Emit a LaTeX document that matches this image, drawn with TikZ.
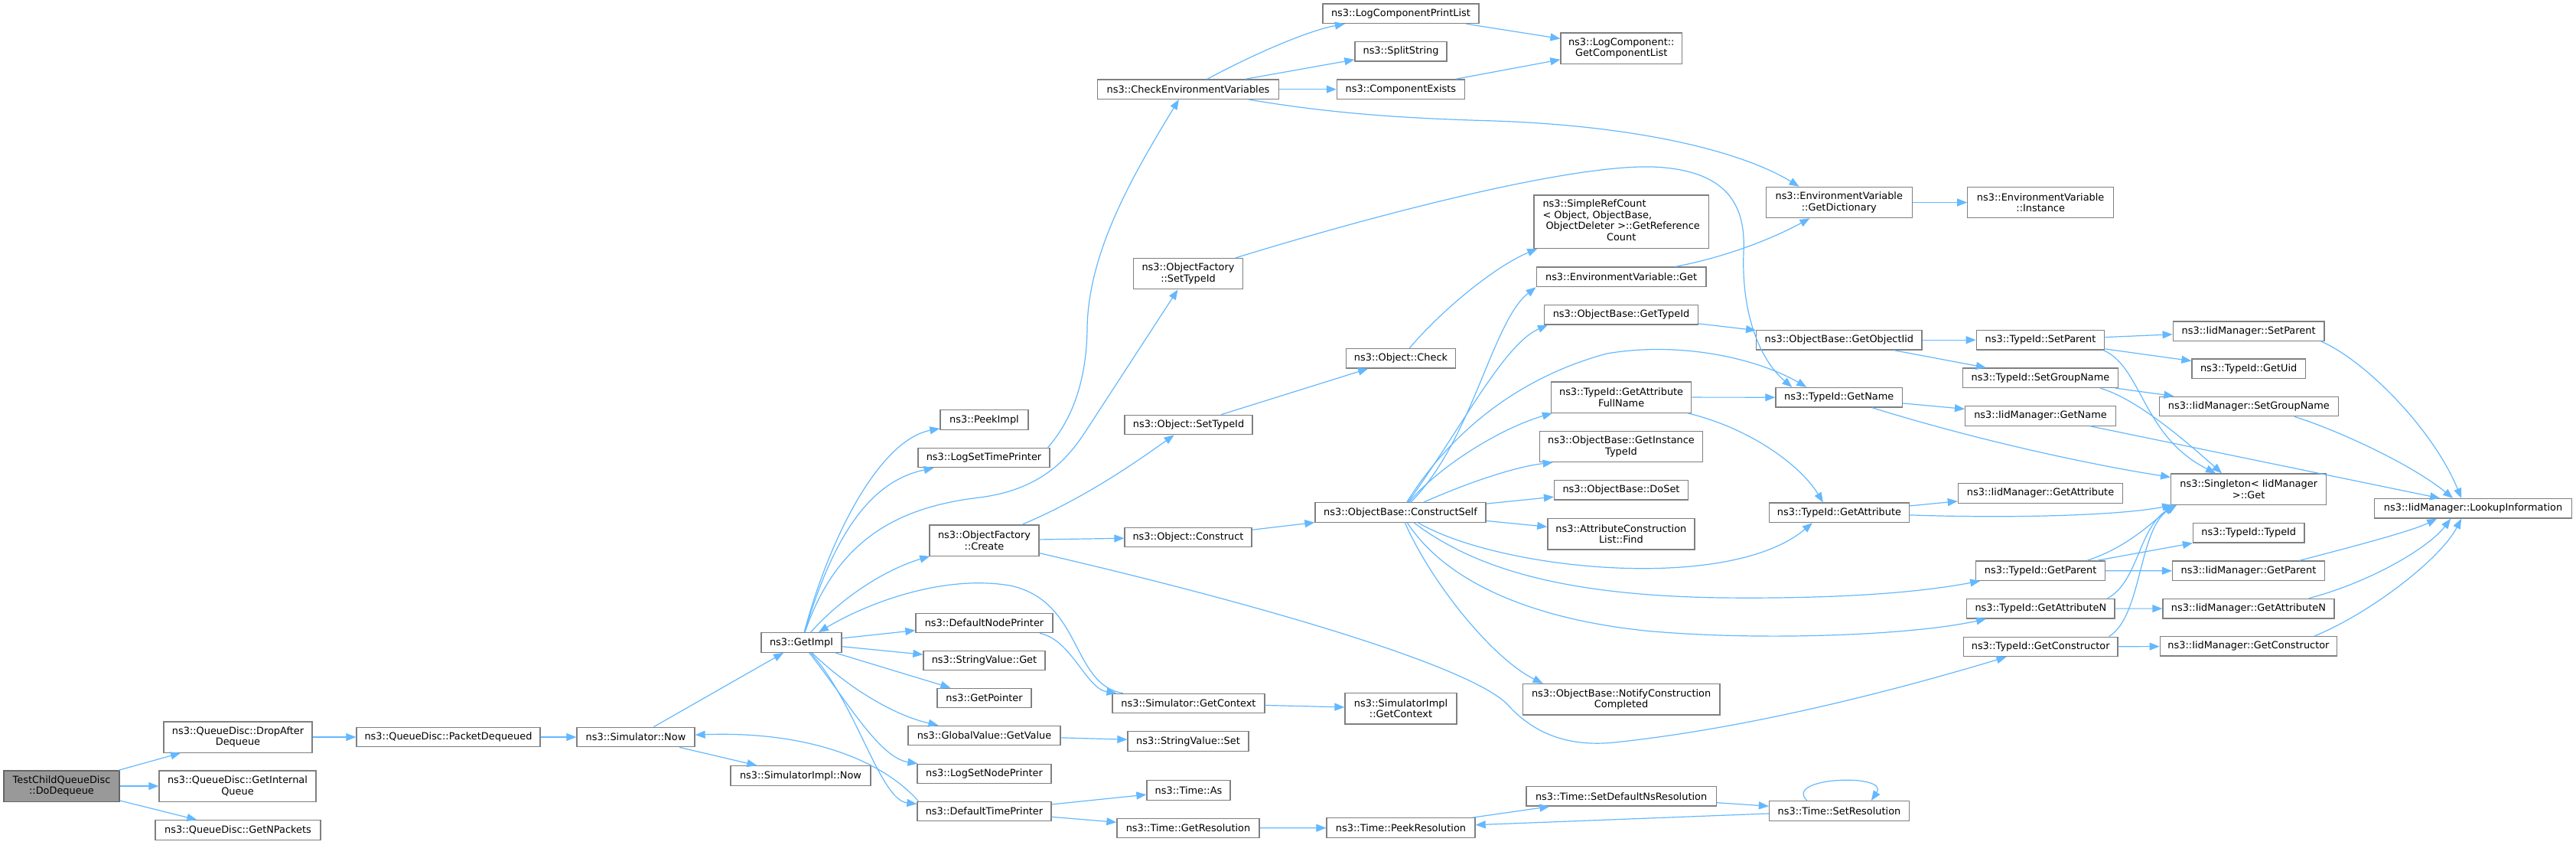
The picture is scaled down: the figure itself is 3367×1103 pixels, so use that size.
\documentclass[tikz,border=0pt]{standalone}
\usepackage{fontspec}
\setmainfont{DejaVu Sans}
\usetikzlibrary{arrows.meta}
\definecolor{edgec}{HTML}{63B8FF}
\definecolor{nodeb}{HTML}{808080}
\definecolor{rootb}{HTML}{666666}
\definecolor{rootf}{HTML}{999999}
\tikzset{
  box/.style={draw=nodeb, fill=white, line width=1.3pt, inner sep=0pt, align=center,
    font=\fontsize{12.9pt}{14.5pt}\selectfont, minimum height=25.5pt},
  box2/.style={box, minimum height=40.3pt},
  rootbox/.style={box2, fill=rootf, draw=rootb},
  edge/.style={draw=edgec, line width=1.2pt, -{Triangle[length=13pt,width=10pt]}},
}
\begin{document}
\begin{tikzpicture}[x=1pt,y=-1pt]
\useasboundingbox (0,0) rectangle (3367,1103);
% ---------------- nodes ----------------
\node[rootbox, minimum width=151pt] (dodeq) at (80.5,1027) {TestChildQueueDisc\\::DoDequeue};
\node[box2, minimum width=194pt] (dropafter) at (311,963) {ns3::QueueDisc::DropAfter\\Dequeue};
\node[box2, minimum width=205pt] (getinternal) at (310.5,1027) {ns3::QueueDisc::GetInternal\\Queue};
\node[box, minimum width=216pt] (getnpackets) at (311,1084.5) {ns3::QueueDisc::GetNPackets};
\node[box, minimum width=240pt] (pktdeq) at (586,963) {ns3::QueueDisc::PacketDequeued};
\node[box, minimum width=154pt] (simnow) at (831,963) {ns3::Simulator::Now};
\node[box, minimum width=183pt] (simimplnow) at (1046.5,1013.5) {ns3::SimulatorImpl::Now};
\node[box, minimum width=105pt] (getimpl) at (1047.5,839.5) {ns3::GetImpl};
\node[box, minimum width=115pt] (peekimpl) at (1286.5,548.5) {ns3::PeekImpl};
\node[box, minimum width=172pt] (logsettime) at (1286,598) {ns3::LogSetTimePrinter};
\node[box2, minimum width=143pt] (ofcreate) at (1286.5,706) {ns3::ObjectFactory\\::Create};
\node[box, minimum width=179pt] (defnodeprinter) at (1286.5,814) {ns3::DefaultNodePrinter};
\node[box, minimum width=159pt] (strvalget) at (1286.5,863) {ns3::StringValue::Get};
\node[box, minimum width=123pt] (getpointer) at (1286.5,912) {ns3::GetPointer};
\node[box, minimum width=199pt] (gvgetvalue) at (1286.5,961) {ns3::GlobalValue::GetValue};
\node[box, minimum width=175pt] (logsetnode) at (1286.5,1011) {ns3::LogSetNodePrinter};
\node[box, minimum width=175pt] (deftimeprinter) at (1286.5,1060) {ns3::DefaultTimePrinter};
\node[box, minimum width=167pt] (objsettypeid) at (1553.5,555) {ns3::Object::SetTypeId};
\node[box, minimum width=166pt] (objconstruct) at (1553,702) {ns3::Object::Construct};
\node[box, minimum width=223pt] (constructself) at (1830.5,669.5) {ns3::ObjectBase::ConstructSelf};
\node[box, minimum width=199pt] (simgetctx) at (1553.5,919) {ns3::Simulator::GetContext};
\node[box2, minimum width=146pt] (simimplgetctx) at (1831,925.75) {ns3::SimulatorImpl\\::GetContext};
\node[box, minimum width=158pt] (strvalset) at (1553,968.5) {ns3::StringValue::Set};
\node[box, minimum width=109pt] (timeas) at (1553.5,1032.5) {ns3::Time::As};
\node[box, minimum width=186pt] (timegetres) at (1553,1082) {ns3::Time::GetResolution};
\node[box, minimum width=194pt] (peekres) at (1831,1081.5) {ns3::Time::PeekResolution};
\node[box, minimum width=237pt] (cev) at (1553,116.65) {ns3::CheckEnvironmentVariables};
\node[box, minimum width=204pt] (lcpl) at (1831,17.85) {ns3::LogComponentPrintList};
\node[box, minimum width=120pt] (splitstring) at (1831,67.15) {ns3::SplitString};
\node[box, minimum width=167pt] (compexists) at (1830.9,116.65) {ns3::ComponentExists};
\node[box2, minimum width=143pt] (ofsettypeid) at (1553,357.65) {ns3::ObjectFactory\\::SetTypeId};
\node[box, minimum width=143.2pt] (objcheck) at (1831,468.25) {ns3::Object::Check};
\node[box2, minimum width=158.5pt] (lcgetlist) at (2119.25,63) {ns3::LogComponent::\\GetComponentList};
\node[box, minimum width=228.3pt, minimum height=69.3pt] (simplerefcount) at (2119.15,289.65)
  {\begin{tabular}{@{}l@{}}ns3::SimpleRefCount\\< Object, ObjectBase,\\\hspace*{4pt}ObjectDeleter >::GetReference\\\multicolumn{1}{@{}c@{}}{Count}\end{tabular}};
\node[box, minimum width=221.8pt] (envget) at (2119.1,361.85) {ns3::EnvironmentVariable::Get};
\node[box, minimum width=200.7pt] (obgettypeid) at (2119,411.15) {ns3::ObjectBase::GetTypeId};
\node[box2, minimum width=183.2pt] (getattrfullname) at (2119.1,519) {ns3::TypeId::GetAttribute\\FullName};
\node[box2, minimum width=213.5pt] (getinstancetypeid) at (2119,583.3) {ns3::ObjectBase::GetInstance\\TypeId};
\node[box, minimum width=175pt] (doset) at (2119,640.25) {ns3::ObjectBase::DoSet};
\node[box2, minimum width=192pt] (acfind) at (2118.85,697.7) {ns3::AttributeConstruction\\List::Find};
\node[box2, minimum width=257.6pt] (notifycc) at (2119.1,913.7) {ns3::ObjectBase::NotifyConstruction\\Completed};
\node[box, minimum width=248.4pt] (setdefaultns) at (2119.1,1040.35) {ns3::Time::SetDefaultNsResolution};
\node[box2, minimum width=191pt] (envgetdict) at (2403.75,264.5) {ns3::EnvironmentVariable\\::GetDictionary};
\node[box2, minimum width=190.7pt] (envinstance) at (2667.15,264.5) {ns3::EnvironmentVariable\\::Instance};
\node[box, minimum width=216.4pt] (getobjectiid) at (2403.9,444.2) {ns3::ObjectBase::GetObjectIid};
\node[box, minimum width=167.5pt] (tidsetparent) at (2667,444.2) {ns3::TypeId::SetParent};
\node[box, minimum width=202.5pt] (tidsetgroupname) at (2667,493.7) {ns3::TypeId::SetGroupName};
\node[box, minimum width=165.4pt] (tidgetname) at (2403.7,519.25) {ns3::TypeId::GetName};
\node[box, minimum width=196.8pt] (iidgetname) at (2667,543.4) {ns3::IidManager::GetName};
\node[box, minimum width=215.2pt] (iidgetattribute) at (2667,644.4) {ns3::IidManager::GetAttribute};
\node[box, minimum width=182.9pt] (tidgetattribute) at (2403.95,669.85) {ns3::TypeId::GetAttribute};
\node[box, minimum width=168.6pt] (tidgetparent) at (2667.1,745.65) {ns3::TypeId::GetParent};
\node[box, minimum width=193.3pt] (tidgetattrn) at (2667.35,795.1) {ns3::TypeId::GetAttributeN};
\node[box, minimum width=201.6pt] (tidgetctor) at (2667.2,844.9) {ns3::TypeId::GetConstructor};
\node[box, minimum width=182.9pt] (timesetres) at (2403.95,1059.4) {ns3::Time::SetResolution};
\node[box, minimum width=197.8pt] (iidsetparent) at (2939.1,432.6) {ns3::IidManager::SetParent};
\node[box, minimum width=148.3pt] (tidgetuid) at (2939.15,481.85) {ns3::TypeId::GetUid};
\node[box, minimum width=233.8pt] (iidsetgroupname) at (2939.3,530.95) {ns3::IidManager::SetGroupName};
\node[box2, minimum width=203pt] (singleton) at (2939.2,639.1) {ns3::Singleton< IidManager\\>::Get};
\node[box, minimum width=257.5pt] (lookupinfo) at (3232.55,664.35) {ns3::IidManager::LookupInformation};
\node[box, minimum width=145.5pt] (tidtypeid) at (2939.25,696.35) {ns3::TypeId::TypeId};
\node[box, minimum width=198.8pt] (iidgetparent) at (2939,745.85) {ns3::IidManager::GetParent};
\node[box, minimum width=224.1pt] (iidgetattrn) at (2938.95,795.15) {ns3::IidManager::GetAttributeN};
\node[box, minimum width=231.5pt] (iidgetctor) at (2938.95,844.35) {ns3::IidManager::GetConstructor};
% ---------------- straight edges ----------------
\draw[edge] (dodeq) -- (dropafter);
\draw[edge] (dodeq) -- (getinternal);
\draw[edge] (dodeq) -- (getnpackets);
\draw[edge] (dropafter) -- (pktdeq);
\draw[edge] (pktdeq) -- (simnow);
\draw[edge] (simnow) -- (getimpl);
\draw[edge] (simnow) -- (simimplnow);
\draw[edge] (getimpl) -- (defnodeprinter);
\draw[edge] (getimpl) -- (strvalget);
\draw[edge] (getimpl) -- (getpointer);
\draw[edge] (ofcreate) -- (objconstruct);
\draw[edge] (objconstruct) -- (constructself);
\draw[edge] (objsettypeid) -- (objcheck);
\draw[edge] (cev) -- (splitstring);
\draw[edge] (cev) -- (compexists);
\draw[edge] (lcpl) -- (lcgetlist);
\draw[edge] (compexists) -- (lcgetlist);
\draw[edge] (constructself) -- (doset);
\draw[edge] (constructself) -- (acfind);
\draw[edge] (envgetdict) -- (envinstance);
\draw[edge] (obgettypeid) -- (getobjectiid);
\draw[edge] (getattrfullname) -- (tidgetname);
\draw[edge] (getobjectiid) -- (tidsetparent);
\draw[edge] (getobjectiid) -- (tidsetgroupname);
\draw[edge] (tidgetname) -- (iidgetname);
\draw[edge] (tidsetparent) -- (iidsetparent);
\draw[edge] (tidsetparent) -- (tidgetuid);
\draw[edge] (tidsetgroupname) -- (iidsetgroupname);
\draw[edge] (tidgetattribute) -- (iidgetattribute);
\draw[edge] (tidgetparent) -- (tidtypeid);
\draw[edge] (tidgetparent) -- (iidgetparent);
\draw[edge] (tidgetattrn) -- (iidgetattrn);
\draw[edge] (tidgetctor) -- (iidgetctor);
\draw[edge] (deftimeprinter) -- (timeas);
\draw[edge] (deftimeprinter) -- (timegetres);
\draw[edge] (timegetres) -- (peekres);
\draw[edge] (peekres) -- (setdefaultns);
\draw[edge] (setdefaultns) -- (timesetres);
\draw[edge] (timesetres) -- (peekres);
\draw[edge] (simgetctx) -- (simimplgetctx);
\draw[edge] (gvgetvalue) -- (strvalset);
\draw[edge] (iidgetname) -- ([xshift=86pt]lookupinfo.north west);
% ---------------- curved edges ----------------
\draw[edge] (getimpl) .. controls (1085,700) and (1150,575) .. (peekimpl);
\draw[edge] (getimpl) .. controls (1085,715) and (1130,630) .. (logsettime);
\draw[edge] (getimpl) .. controls (1095,700) and (1180,662) .. (1280,650)
  .. controls (1360,640) and (1395,600) .. (1418,565) -- (ofsettypeid);
\draw[edge] (getimpl) .. controls (1110,770) and (1170,740) .. (ofcreate);
\draw[edge] (simgetctx) .. controls (1400,895) and (1415,785) .. (1320,765)
  .. controls (1230,750) and (1130,790) .. (getimpl);
\draw[edge] (defnodeprinter) .. controls (1400,835) and (1420,900) .. (simgetctx);
\draw[edge] (getimpl) .. controls (1110,900) and (1170,935) .. (gvgetvalue);
\draw[edge] (getimpl) .. controls (1110,920) and (1150,990) .. (logsetnode);
\draw[edge] (getimpl) .. controls (1120,920) and (1150,1045) .. (deftimeprinter);
\draw[edge] ([xshift=2pt]deftimeprinter.north west) .. controls (1150,990) and (1050,955) .. (simnow);
\draw[edge] (ofcreate) .. controls (1420,650) and (1490,600) .. (objsettypeid);
\draw[edge] (ofcreate) .. controls (1650,790) and (1920,870) .. (1970,920)
  .. controls (2010,965) and (2060,975) .. (2110,970)
  .. controls (2300,950) and (2500,895) .. (tidgetctor);
\draw[edge] (objcheck) .. controls (1880,410) and (1950,350) .. ([xshift=5pt]simplerefcount.south west);
\draw[edge] (cev) .. controls (1640,70) and (1710,40) .. (lcpl);
\draw[edge] (cev) .. controls (1750,150) and (1850,155) .. (1954,158)
  .. controls (2150,165) and (2280,200) .. ([xshift=44pt]envgetdict.north west);
\draw[edge] ([xshift=-3pt]logsettime.north east) .. controls (1400,550) and (1420,500) .. (1421,430)
  .. controls (1422,330) and (1480,230) .. ([xshift=107pt]cev.south west);
\draw[edge] ([xshift=-10pt]ofsettypeid.north east) .. controls (1800,280) and (2050,215) .. (2160,218)
  .. controls (2260,222) and (2282,270) .. (2279,330)
  .. controls (2276,410) and (2300,470) .. ([xshift=22pt]tidgetname.north west);
\draw[edge] (constructself) .. controls (1925,575) and (1950,420) .. (envget.south west);
\draw[edge] (constructself) .. controls (1910,560) and (1965,450) .. ([xshift=5pt]obgettypeid.south west);
\draw[edge] (constructself) .. controls (1880,590) and (1960,500) .. (2100,462)
  .. controls (2200,445) and (2300,470) .. ([xshift=41pt]tidgetname.north west);
\draw[edge] (constructself) .. controls (1880,610) and (1960,560) .. ([xshift=2pt]getattrfullname.south west);
\draw[edge] (constructself) .. controls (1920,630) and (1980,610) .. ([xshift=18pt]getinstancetypeid.south west);
\draw[edge] (constructself) .. controls (1960,745) and (2260,775) .. ([xshift=57pt]tidgetattribute.south west);
\draw[edge] (constructself) .. controls (1930,745) and (2050,778) .. (2250,781)
  .. controls (2450,783) and (2540,768) .. ([xshift=6pt]tidgetparent.south west);
\draw[edge] (constructself) .. controls (1890,760) and (2000,808) .. (2150,824)
  .. controls (2300,838) and (2500,830) .. ([xshift=26pt]tidgetattrn.south west);
\draw[edge] (constructself) .. controls (1870,760) and (1950,860) .. ([xshift=27pt]notifycc.north west);
\draw[edge] (envget) .. controls (2260,335) and (2320,310) .. (envgetdict);
\draw[edge] (getattrfullname) .. controls (2290,560) and (2355,610) .. ([xshift=71pt]tidgetattribute.north west);
\draw[edge] (tidgetname) .. controls (2600,580) and (2750,610) .. (singleton);
\draw[edge] ([xshift=-2pt]tidsetparent.south east) .. controls (2800,480) and (2800,570) .. ([xshift=59pt]singleton.north west);
\draw[edge] ([xshift=-24pt]tidsetgroupname.south east) .. controls (2790,520) and (2850,570) .. ([xshift=67pt]singleton.north west);
\draw[edge] ([xshift=-5pt]iidsetparent.south east) .. controls (3090,470) and (3180,560) .. ([xshift=114pt]lookupinfo.north west);
\draw[edge] ([xshift=-58pt]iidsetgroupname.south east) .. controls (3050,560) and (3150,605) .. ([xshift=103pt]lookupinfo.north west);
\draw[edge] (tidgetattribute) .. controls (2650,678) and (2780,672) .. ([xshift=2pt]singleton.south west);
\draw[edge] ([xshift=-24pt]tidgetparent.north east) .. controls (2780,715) and (2810,685) .. ([xshift=4pt]singleton.south west);
\draw[edge] ([xshift=-10pt]tidgetattrn.north east) .. controls (2795,760) and (2795,690) .. ([xshift=6pt]singleton.south west);
\draw[edge] ([xshift=-12pt]tidgetctor.north east) .. controls (2800,805) and (2795,690) .. ([xshift=8pt]singleton.south west);
\draw[edge] ([xshift=-34pt]iidgetparent.north east) .. controls (3060,718) and (3150,695) .. ([xshift=82pt]lookupinfo.south west);
\draw[edge] ([xshift=-34pt]iidgetattrn.north east) .. controls (3100,760) and (3175,715) .. ([xshift=100pt]lookupinfo.south west);
\draw[edge] ([xshift=-30pt]iidgetctor.north east) .. controls (3100,800) and (3190,730) .. ([xshift=114pt]lookupinfo.south west);
\draw[edge] ([xshift=50pt]timesetres.north west) .. controls (2330,1015) and (2470,1010) .. ([xshift=134pt]timesetres.north west);
\end{tikzpicture}
\end{document}
